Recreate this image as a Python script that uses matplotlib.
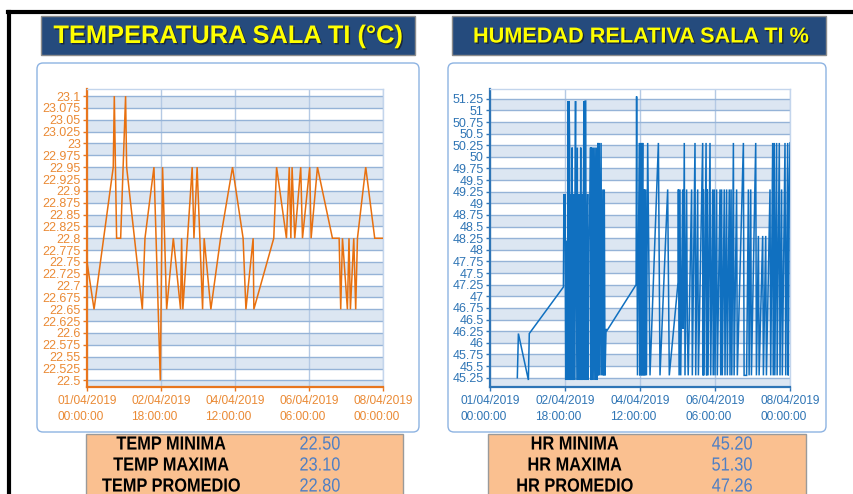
import matplotlib
matplotlib.use("Agg")
import matplotlib.pyplot as plt
import matplotlib.dates as mdates
import matplotlib.patheffects as pe
from matplotlib.patches import FancyBboxPatch, Rectangle, PathPatch
from matplotlib.lines import Line2D
from matplotlib.transforms import IdentityTransform, Affine2D
from matplotlib.textpath import TextPath
from matplotlib.font_manager import FontProperties
from datetime import datetime, timedelta

# lecturas de la semana (horas desde el 01/04/2019 00:00)
temp_horas = [0.0, 4.0, 14.9, 15.5, 16.8, 19.1, 21.9, 22.5, 31.4, 32.9,
              38.0, 41.6, 42.9, 45.2, 49.0, 53.1, 53.7, 54.4, 59.7, 60.7,
              62.5, 65.6, 66.5, 70.3, 75.8, 82.6, 88.6, 90.2, 94.3, 94.7,
              106.0, 107.6, 113.2, 114.8, 115.7, 116.4, 117.9, 121.3, 122.3, 126.4,
              127.2, 130.8, 139.3, 143.1, 144.0, 145.0, 147.8, 148.7, 149.5, 151.4,
              152.5, 153.5, 158.2, 163.3, 168.0]
temp_vals = [22.75, 22.65, 22.95, 23.10, 22.80, 22.80, 23.10, 22.95, 22.65, 22.80,
             22.95, 22.50, 22.95, 22.65, 22.80, 22.65, 22.80, 22.65, 22.95, 22.80,
             22.95, 22.65, 22.80, 22.65, 22.80, 22.95, 22.80, 22.65, 22.80, 22.65,
             22.80, 22.95, 22.80, 22.95, 22.80, 22.95, 22.80, 22.95, 22.80, 22.95,
             22.80, 22.95, 22.80, 22.80, 22.65, 22.80, 22.65, 22.80, 22.65, 22.80,
             22.65, 22.80, 22.95, 22.80, 22.80]

hr_horas = [15.3, 15.9, 21.5, 22.0, 41.1, 41.4, 41.8, 42.0, 42.4, 42.9,
            43.3, 43.8, 44.0, 44.3, 44.6, 44.9, 45.3, 45.6, 46.0, 46.3,
            46.7, 47.0, 47.5, 47.9, 48.2, 48.9, 49.2, 49.6, 50.0, 50.3,
            50.8, 51.1, 51.5, 51.9, 52.3, 52.6, 53.0, 53.3, 53.6, 53.9,
            54.3, 54.7, 55.0, 55.5, 56.0, 56.3, 56.6, 56.9, 57.3, 57.9,
            58.2, 58.8, 59.1, 59.7, 60.0, 60.4, 60.7, 61.2, 61.6, 62.2,
            62.6, 63.2, 63.5, 64.0, 64.4, 65.0, 65.3, 81.8, 82.1, 82.6,
            83.6, 83.9, 84.3, 84.6, 84.9, 85.2, 85.5, 85.8, 86.1, 86.4,
            86.7, 87.2, 87.6, 88.3, 89.6, 94.3, 95.2, 99.5, 100.4, 105.3,
            105.5, 105.9, 106.4, 106.8, 107.9, 108.2, 108.8, 109.2, 110.1, 110.5,
            111.0, 112.9, 113.3, 114.8, 115.2, 116.3, 116.7, 119.1, 119.3, 119.5,
            119.9, 121.0, 121.3, 121.7, 122.1, 123.2, 123.6, 124.7, 125.0, 125.6,
            126.0, 126.9, 127.3, 128.8, 129.2, 129.7, 130.1, 131.2, 131.6, 132.5,
            132.9, 134.0, 134.4, 135.0, 135.4, 136.3, 136.7, 138.1, 138.5, 141.9,
            142.3, 143.7, 144.7, 145.1, 146.0, 146.4, 148.8, 149.2, 150.3, 150.7,
            152.7, 153.1, 154.4, 154.8, 156.8, 157.2, 158.3, 158.6, 159.2, 159.5,
            160.5, 160.8, 162.0, 162.4, 163.3, 163.7, 165.2, 165.6, 166.7, 167.0,
            167.6, 168.0]
hr_vals = [45.25, 46.2, 45.2, 46.2, 47.2, 49.2, 48.2, 49.2, 45.2, 48.2,
           45.2, 51.2, 45.2, 51.2, 50.2, 45.2, 49.2, 45.2, 50.2, 45.2,
           49.2, 45.2, 48.2, 51.2, 45.2, 50.2, 45.2, 48.2, 49.2, 45.2,
           50.2, 45.2, 49.2, 45.2, 49.2, 51.2, 45.2, 51.2, 51.2, 45.2,
           48.2, 49.2, 45.2, 48.2, 49.2, 50.2, 45.2, 50.2, 45.2, 50.2,
           45.2, 50.2, 45.2, 50.2, 45.2, 50.3, 45.3, 50.3, 45.3, 50.3,
           45.3, 49.3, 45.3, 49.3, 45.3, 46.3, 46.25, 47.25, 51.3, 45.3,
           50.3, 45.3, 49.3, 50.3, 45.3, 48.3, 50.3, 45.3, 48.3, 49.3,
           45.3, 49.3, 45.3, 50.3, 45.3, 50.3, 45.3, 49.3, 45.3, 47.3,
           49.3, 45.3, 49.3, 45.3, 49.3, 46.3, 50.3, 45.3, 49.3, 46.3,
           45.3, 49.3, 45.3, 50.3, 45.3, 49.3, 45.3, 50.3, 45.3, 49.3,
           45.3, 50.3, 45.3, 49.3, 45.3, 50.3, 45.3, 49.3, 45.3, 49.3,
           45.3, 49.3, 45.3, 49.3, 45.3, 49.3, 45.3, 49.3, 45.3, 49.3,
           45.3, 49.3, 45.3, 49.3, 45.3, 50.3, 45.3, 49.3, 45.3, 50.3,
           45.3, 45.3, 49.3, 45.3, 49.3, 45.3, 50.3, 45.3, 48.3, 45.3,
           48.3, 45.3, 48.3, 45.3, 49.3, 45.3, 50.3, 45.3, 50.3, 45.3,
           50.3, 45.3, 50.3, 45.3, 49.3, 45.3, 50.3, 45.3, 50.3, 45.3,
           49.3, 50.3]

temp_titulo = "TEMPERATURA SALA TI (°C)"
hr_titulo = "HUMEDAD RELATIVA SALA TI %"
temp_resumen = ["TEMP MINIMA", "TEMP MAXIMA", "TEMP PROMEDIO"]
temp_resumen_vals = ["22.50", "23.10", "22.80"]
hr_resumen = ["HR MINIMA", "HR MAXIMA", "HR PROMEDIO"]
hr_resumen_vals = ["45.20", "51.30", "47.26"]

inicio = datetime(2019, 4, 1)
horas_ticks = [0, 42, 84, 126, 168]

W, H = 854, 494
fig = plt.figure(figsize=(W / 100, H / 100), dpi=100)
fig.patch.set_facecolor("white")
ident = IdentityTransform()


def caja(x0, y0, x1, y1, **kw):
    # coordenadas en pixeles desde arriba a la izquierda
    p = Rectangle((x0, H - y1), x1 - x0, y1 - y0, transform=ident, **kw)
    fig.patches.append(p)
    return p


def tarjeta(x0, y0, x1, y1):
    p = FancyBboxPatch((x0, H - y1), x1 - x0, y1 - y0,
                       boxstyle="round,pad=0,rounding_size=6",
                       transform=ident, facecolor="white",
                       edgecolor="#8db3e2", lw=1.0, zorder=-2)
    fig.patches.append(p)


def texto(x, y, s, **kw):
    fig.text(x / W, 1 - y / H, s, **kw)


def texto_angosto(x, y, s, color, negrita=True, em=19, ancho=0.86):
    # texto condensado: se dibuja como trazo y se comprime en horizontal
    prop = FontProperties(family="Liberation Sans", weight="bold" if negrita else "normal")
    tp = TextPath((0, 0), s, size=em, prop=prop)
    ext = tp.get_extents()
    cx = (ext.x0 + ext.x1) / 2
    cy = (ext.y0 + ext.y1) / 2
    tr = Affine2D().translate(-cx, -cy).scale(ancho, 1).translate(x, H - y) + ident
    fig.patches.append(PathPatch(tp, transform=tr, facecolor=color, lw=0, zorder=3))


# marco negro
fig.lines.append(Line2D([8 / W, 1], [1 - 12 / H, 1 - 12 / H], color="black",
                        lw=3, transform=fig.transFigure))
fig.lines.append(Line2D([9.5 / W, 9.5 / W], [0, 1 - 12 / H], color="black",
                        lw=3, transform=fig.transFigure))

# titulos
sombra = [pe.withSimplePatchShadow(offset=(1.0, -1.0), shadow_rgbFace="#111111", alpha=0.6)]
caja(41, 16, 415, 55, facecolor="#254b7d", edgecolor="#8c8c8c", lw=1.0)
caja(452, 16, 826, 55, facecolor="#254b7d", edgecolor="#8c8c8c", lw=1.0)
texto(228, 36, temp_titulo, ha="center", va="center", color="#ffff00",
      fontsize=18.3, fontweight="bold", family="Liberation Sans", path_effects=sombra)
texto(473, 37, hr_titulo, ha="left", va="center", color="#ffff00",
      fontsize=15.6, fontweight="bold", family="Liberation Sans", path_effects=sombra)

tarjeta(37, 63, 419, 432)
tarjeta(448, 63, 826, 432)


def grafico(rect_px, horas, vals, ylim, ticks_y, paso, c_txt, c_eje, c_linea, fmt):
    x0, y0, x1, y1 = rect_px
    ax = fig.add_axes([x0 / W, 1 - y1 / H, (x1 - x0) / W, (y1 - y0) / H])
    ax.set_facecolor("white")
    fechas = [inicio + timedelta(hours=h) for h in horas]
    for v in ticks_y[0::2]:
        ax.axhspan(v - paso, v, color="#dce6f2", lw=0, zorder=0)
    ax.plot(fechas, vals, color=c_linea, lw=1.1, zorder=3, solid_joinstyle="miter")
    ax.set_ylim(*ylim)
    ax.set_yticks(ticks_y)
    ax.set_yticklabels([fmt(v) for v in ticks_y])
    ax.set_xlim(inicio, inicio + timedelta(hours=168))
    ax.set_xticks([inicio + timedelta(hours=h) for h in horas_ticks])
    ax.xaxis.set_major_formatter(mdates.DateFormatter("%d/%m/%Y\n%H:%M:%S"))
    ax.grid(axis="y", color="#95b3d7", lw=1.0, zorder=1)
    ax.grid(axis="x", color="#b4c9e4", lw=1.0, zorder=1)
    ax.set_axisbelow(True)
    for lado in ("top", "right"):
        ax.spines[lado].set_color("#c3d5ec")
        ax.spines[lado].set_linewidth(1.0)
    for lado in ("left", "bottom"):
        ax.spines[lado].set_color(c_eje)
        ax.spines[lado].set_linewidth(1.6)
    ax.tick_params(axis="y", colors=c_eje, labelcolor=c_txt, labelsize=9,
                   length=3, width=1, pad=1.5)
    ax.tick_params(axis="x", colors=c_eje, labelcolor=c_txt, labelsize=8.6,
                   length=3, width=1, pad=3)
    for lbl in ax.get_yticklabels() + ax.get_xticklabels():
        lbl.set_family("Liberation Sans")
    for lbl in ax.get_xticklabels():
        lbl.set_multialignment("left")
        lbl.set_linespacing(1.45)
    return ax


temp_ticks = [22.5 + 0.025 * i for i in range(25)]
hr_ticks = [45.25 + 0.25 * i for i in range(25)]

grafico((87, 89, 383, 387), temp_horas, temp_vals, (22.486, 23.115), temp_ticks, 0.025,
        "#ea8a35", "#e8761e", "#e8700f", lambda v: f"{v:.3f}".rstrip("0").rstrip("."))
grafico((490, 89, 790, 387), hr_horas, hr_vals, (45.05, 51.46), hr_ticks, 0.25,
        "#2f75b5", "#2e75b6", "#1070c0", lambda v: f"{v:.2f}".rstrip("0").rstrip("."))

# cuadros de resumen
caja(86, 434, 403, 500, facecolor="#fac090", edgecolor="#9a9a9a", lw=1.0)
caja(488, 434, 806, 500, facecolor="#fac090", edgecolor="#9a9a9a", lw=1.0)
for i, y in enumerate((443, 464, 485)):
    texto_angosto(171, y, temp_resumen[i], "black")
    texto_angosto(320, y, temp_resumen_vals[i], "#4f7fc4", negrita=False)
    texto_angosto(575, y, hr_resumen[i], "black")
    texto_angosto(732, y, hr_resumen_vals[i], "#4f7fc4", negrita=False)

fig.savefig("out.png", dpi=100)
